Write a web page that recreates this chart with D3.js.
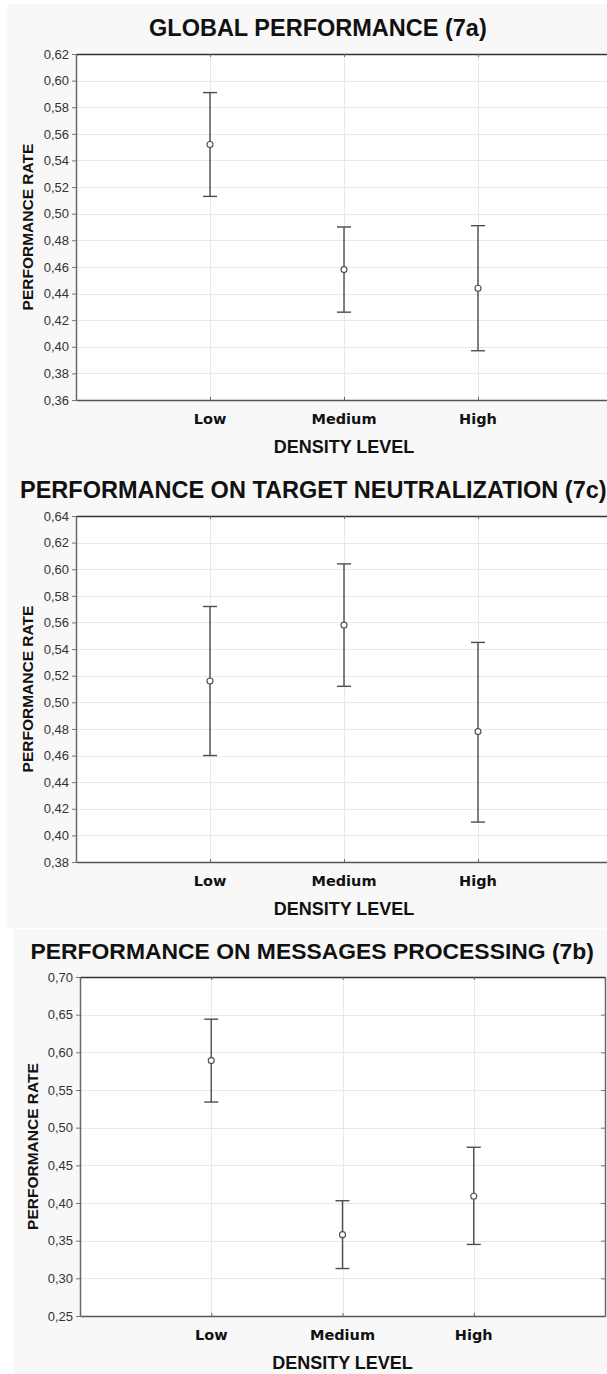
<!DOCTYPE html>
<html>
<head>
<meta charset="utf-8">
<script src="https://cdn.jsdelivr.net/npm/d3@7/dist/d3.min.js"></script>
<style>
  html, body { margin: 0; padding: 0; background: #ffffff; }
  svg { display: block; }
</style>
</head>
<body>
<svg id="chart" width="607" height="1374"></svg>
<script>
// ---- Data ----
const categories = ["Low", "Medium", "High"];

// Global performance (7a)
const globalMean  = [0.552, 0.458, 0.444];
const globalLower = [0.513, 0.426, 0.397];
const globalUpper = [0.591, 0.490, 0.491];
const globalTicks = [0.36, 0.38, 0.40, 0.42, 0.44, 0.46, 0.48, 0.50, 0.52, 0.54, 0.56, 0.58, 0.60, 0.62];

// Target neutralization (7c)
const targetMean  = [0.516, 0.558, 0.478];
const targetLower = [0.460, 0.512, 0.410];
const targetUpper = [0.572, 0.604, 0.545];
const targetTicks = [0.38, 0.40, 0.42, 0.44, 0.46, 0.48, 0.50, 0.52, 0.54, 0.56, 0.58, 0.60, 0.62, 0.64];

// Messages processing (7b)
const messagesMean  = [0.589, 0.358, 0.409];
const messagesLower = [0.534, 0.313, 0.345];
const messagesUpper = [0.644, 0.403, 0.474];
const messagesTicks = [0.25, 0.30, 0.35, 0.40, 0.45, 0.50, 0.55, 0.60, 0.65, 0.70];

const titles = [
  "GLOBAL PERFORMANCE (7a)",
  "PERFORMANCE ON TARGET NEUTRALIZATION (7c)",
  "PERFORMANCE ON MESSAGES PROCESSING (7b)"
];
const xTitle = "DENSITY LEVEL";
const yTitle = "PERFORMANCE RATE";

// ---- Layout (positions/styles) ----
const panels = [
  { mean: globalMean, lower: globalLower, upper: globalUpper, ticks: globalTicks, title: titles[0],
    left: 76, right: 612, top: 54, bottom: 400, titleX: 149, titleY: 36, titleSize: 23.5,
    bg: { x: 7, y: 4, w: 600, h: 462 }, yLabelX: 33, fmt: ".2f" },
  { mean: targetMean, lower: targetLower, upper: targetUpper, ticks: targetTicks, title: titles[1],
    left: 76, right: 612, top: 516, bottom: 862, titleX: 20, titleY: 498, titleSize: 23.5,
    bg: { x: 7, y: 466, w: 600, h: 462 }, yLabelX: 33, fmt: ".2f" },
  { mean: messagesMean, lower: messagesLower, upper: messagesUpper, ticks: messagesTicks, title: titles[2],
    left: 80, right: 605, top: 977, bottom: 1316, titleX: 30.5, titleY: 959, titleSize: 22.9,
    bg: { x: 13, y: 929, w: 594, h: 445 }, yLabelX: 38, fmt: ".2f" }
];

const locale = d3.formatLocale({ decimal: ",", thousands: ".", grouping: [3], currency: ["", ""] });

const svg = d3.select("#chart");

panels.forEach((p) => {
  const g = svg.append("g");

  // panel background
  g.append("rect")
    .attr("x", p.bg.x).attr("y", p.bg.y)
    .attr("width", p.bg.w).attr("height", p.bg.h)
    .attr("fill", "#f8f8f8");

  const x = d3.scalePoint().domain(categories).range([p.left, p.right]).padding(1);
  const y = d3.scaleLinear().domain([p.ticks[0], p.ticks[p.ticks.length - 1]]).range([p.bottom, p.top]);

  // plot area
  g.append("rect")
    .attr("x", p.left).attr("y", p.top)
    .attr("width", p.right - p.left).attr("height", p.bottom - p.top)
    .attr("fill", "#ffffff");

  // grid lines
  g.append("g").selectAll("line")
    .data(p.ticks.slice(1, -1))
    .join("line")
    .attr("x1", p.left).attr("x2", p.right)
    .attr("y1", d => Math.round(y(d)) + 0.5).attr("y2", d => Math.round(y(d)) + 0.5)
    .attr("stroke", "#e9e9e9").attr("stroke-width", 1);

  g.append("g").selectAll("line")
    .data(categories)
    .join("line")
    .attr("x1", d => Math.round(x(d)) + 0.5).attr("x2", d => Math.round(x(d)) + 0.5)
    .attr("y1", p.top).attr("y2", p.bottom)
    .attr("stroke", "#e9e9e9").attr("stroke-width", 1);

  // Left axis
  const fmt = locale.format(p.fmt);
  const yAxis = d3.axisLeft(y).tickValues(p.ticks).tickFormat(fmt).tickSize(4).tickPadding(3).tickSizeOuter(0);
  const ya = g.append("g").attr("transform", `translate(${p.left},0)`).call(yAxis);
  ya.select(".domain").attr("stroke", "#6a6a6a").attr("stroke-width", 1.5);
  ya.selectAll(".tick line").attr("stroke", "#777");
  ya.selectAll(".tick text")
    .attr("fill", "#333")
    .style("font-family", "'Liberation Sans', Arial, sans-serif")
    .style("font-size", "13px");

  // Right axis (inward ticks, no labels)
  const rAxis = d3.axisLeft(y).tickValues(p.ticks).tickFormat("").tickSize(4).tickSizeOuter(0);
  const ra = g.append("g").attr("transform", `translate(${p.right},0)`).call(rAxis);
  ra.select(".domain").attr("stroke", "#6a6a6a").attr("stroke-width", 1.5);
  ra.selectAll(".tick line").attr("stroke", "#777");

  // Bottom axis with inward ticks
  const bAxis = d3.axisTop(x).tickFormat("").tickSize(3).tickSizeOuter(0);
  const ba = g.append("g").attr("transform", `translate(0,${p.bottom})`).call(bAxis);
  ba.select(".domain").attr("stroke", "#555").attr("stroke-width", 1.5);
  ba.selectAll(".tick line").attr("stroke", "#666");

  // Top border with inward ticks
  const tAxis = d3.axisBottom(x).tickFormat("").tickSize(3).tickSizeOuter(0);
  const ta = g.append("g").attr("transform", `translate(0,${p.top})`).call(tAxis);
  ta.select(".domain").attr("stroke", "#333").attr("stroke-width", 1.5);
  ta.selectAll(".tick line").attr("stroke", "#666");

  // Category labels
  g.append("g").selectAll("text")
    .data(categories)
    .join("text")
    .attr("x", d => x(d)).attr("y", p.bottom + 24)
    .attr("text-anchor", "middle")
    .attr("fill", "#111")
    .style("font-family", "'DejaVu Sans', Verdana, sans-serif")
    .style("font-weight", "bold")
    .style("font-size", "14.5px")
    .text(d => d);

  // X title
  g.append("text")
    .attr("x", x(categories[1])).attr("y", p.bottom + 53)
    .attr("text-anchor", "middle")
    .attr("fill", "#111")
    .style("font-family", "'Liberation Sans', Arial, sans-serif")
    .style("font-weight", "bold")
    .style("font-size", "18px")
    .text(xTitle);

  // Y title
  g.append("text")
    .attr("transform", `translate(${p.yLabelX},${(p.top + p.bottom) / 2}) rotate(-90)`)
    .attr("text-anchor", "middle")
    .attr("fill", "#111")
    .style("font-family", "'Liberation Sans', Arial, sans-serif")
    .style("font-weight", "bold")
    .style("font-size", "15.5px")
    .text(yTitle);

  // Title
  g.append("text")
    .attr("x", p.titleX).attr("y", p.titleY)
    .attr("text-anchor", "start")
    .attr("fill", "#111")
    .style("font-family", "'Liberation Sans', Arial, sans-serif")
    .style("font-weight", "bold")
    .style("font-size", p.titleSize + "px")
    .text(p.title);

  // Error bars
  const rows = categories.map((c, i) => ({ c, m: p.mean[i], lo: p.lower[i], hi: p.upper[i] }));
  const eb = g.append("g").attr("stroke", "#4d4d4d").attr("stroke-width", 1.4).attr("fill", "none");
  eb.selectAll("line.stem").data(rows).join("line").attr("class", "stem")
    .attr("x1", d => x(d.c)).attr("x2", d => x(d.c))
    .attr("y1", d => y(d.hi)).attr("y2", d => y(d.lo));
  eb.selectAll("line.capHi").data(rows).join("line").attr("class", "capHi")
    .attr("x1", d => x(d.c) - 7).attr("x2", d => x(d.c) + 7)
    .attr("y1", d => y(d.hi)).attr("y2", d => y(d.hi));
  eb.selectAll("line.capLo").data(rows).join("line").attr("class", "capLo")
    .attr("x1", d => x(d.c) - 7).attr("x2", d => x(d.c) + 7)
    .attr("y1", d => y(d.lo)).attr("y2", d => y(d.lo));
  eb.selectAll("circle").data(rows).join("circle")
    .attr("cx", d => x(d.c)).attr("cy", d => y(d.m)).attr("r", 3)
    .attr("fill", "#ffffff").attr("stroke-width", 1.1);
});
</script>
</body>
</html>
